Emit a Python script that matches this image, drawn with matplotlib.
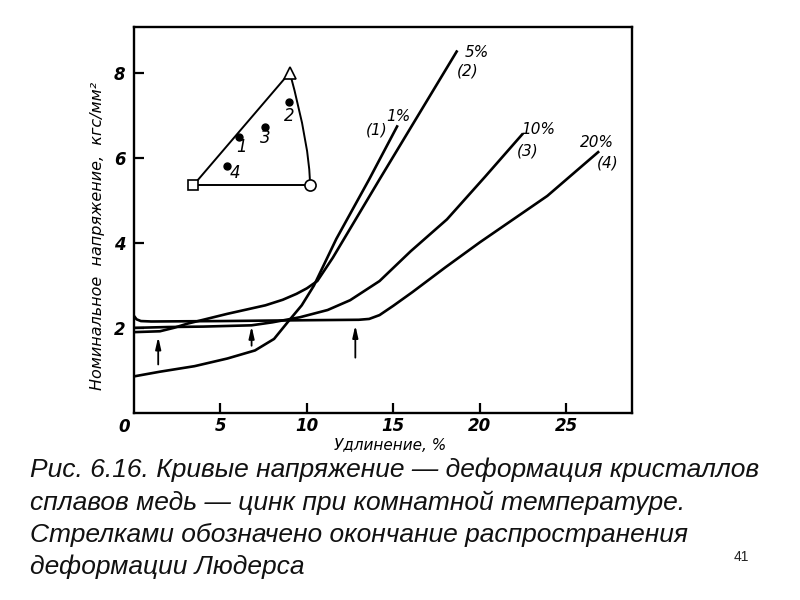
import matplotlib
matplotlib.use("Agg")
import matplotlib.pyplot as plt
from matplotlib.path import Path
from matplotlib.patches import PathPatch
from matplotlib import font_manager

# ---------------- data ----------------
x1 = [0, 1.5, 3.5, 5.4, 7.0, 8.1, 8.9, 9.7, 10.4, 11.7, 13.6, 15.25]
y1 = [0.86, 0.97, 1.10, 1.28, 1.47, 1.74, 2.14, 2.53, 2.99, 4.09, 5.49, 6.76]

x2 = [0, 1.5, 2.3, 3.1, 4.3, 5.4, 6.5, 7.6, 8.6, 9.4, 10.0, 10.6, 11.5, 14.2, 18.7]
y2 = [1.90, 1.92, 2.00, 2.10, 2.22, 2.33, 2.43, 2.53, 2.66, 2.80, 2.93, 3.10, 3.65, 5.49, 8.52]

x3 = [0, 2, 4, 6.8, 8.0, 9.6, 11.2, 12.5, 14.2, 16.0, 18.1, 20.3, 22.5]
y3 = [2.0, 2.02, 2.03, 2.06, 2.13, 2.25, 2.42, 2.65, 3.1, 3.8, 4.55, 5.55, 6.57]

x4 = [0, 0.15, 0.4, 1.0, 5, 10, 13.0, 13.6, 14.2, 15.0, 16.1, 18.0, 20.0, 23.9, 26.9]
y4 = [2.28, 2.20, 2.16, 2.15, 2.16, 2.18, 2.19, 2.21, 2.30, 2.52, 2.84, 3.42, 4.01, 5.10, 6.15]

curve_pct = ["1%", "5%", "10%", "20%"]
curve_num = ["(1)", "(2)", "(3)", "(4)"]
pct_x = [15.28, 19.81, 23.35, 26.75]
pct_y = [6.97, 8.46, 6.66, 6.35]
num_x = [14.03, 19.31, 22.77, 27.4]
num_y = [6.65, 8.03, 6.15, 5.87]

# Lüders-band end arrows
arrow_x = [1.4, 6.8, 12.8]
arrow_tip = [1.79, 2.04, 2.06]
arrow_tail = [1.14, 1.58, 1.30]

# stereographic triangle inset (square = [001], triangle = [111], circle = [011])
tri_x = [3.43, 9.01, 10.18]
tri_y = [5.35, 8.0, 5.35]
arc_ctrl = (10.17, 6.27)
pole_x = [6.05, 8.97, 7.57, 5.39]
pole_y = [6.49, 7.30, 6.73, 5.80]
pole_lbl = ["1", "2", "3", "4"]
pole_off = [(2, -7), (0, -10), (0, -8.5), (5.5, -5)]

xticks = [5, 10, 15, 20, 25]
yticks = [2, 4, 6, 8]

caption = [
    "Рис. 6.16. Кривые напряжение — деформация кристаллов",
    "сплавов медь — цинк при комнатной температуре.",
    "Стрелками обозначено окончание распространения",
    "деформации Людерса",
]

# ---------------- fonts ----------------
names = {f.name for f in font_manager.fontManager.ttflist}
cap_font = "Liberation Sans Narrow" if "Liberation Sans Narrow" in names else "Liberation Sans"
plt.rcParams["font.family"] = ["DejaVu Sans"]

fig = plt.figure(figsize=(8, 6), dpi=100)
ax = fig.add_axes([0.1675, 0.3117, 0.6225, 0.6433])
ax.set_xlim(0, 28.8)
ax.set_ylim(0, 9.07)

lw = 1.9
for xs, ys in [(x1, y1), (x2, y2), (x3, y3), (x4, y4)]:
    ax.plot(xs, ys, color="black", lw=lw, solid_joinstyle="round", solid_capstyle="butt")

for t, x, y in zip(curve_pct, pct_x, pct_y):
    ax.text(x, y, t, fontsize=11, style="italic", ha="center", va="center")
for t, x, y in zip(curve_num, num_x, num_y):
    ax.text(x, y, t, fontsize=11, style="italic", ha="center", va="center")

for x, yt, yb in zip(arrow_x, arrow_tip, arrow_tail):
    ax.annotate("", xy=(x, yt), xytext=(x, yb),
                arrowprops=dict(arrowstyle="-|>,head_width=0.16,head_length=0.7",
                                lw=1.3, color="black", shrinkA=0, shrinkB=0))

# inset triangle
ax.plot([tri_x[0], tri_x[1]], [tri_y[0], tri_y[1]], color="black", lw=1.4)
ax.plot([tri_x[0], tri_x[2]], [tri_y[0], tri_y[2]], color="black", lw=1.4)
arc = Path([(tri_x[1], tri_y[1]), arc_ctrl, (tri_x[2], tri_y[2])],
           [Path.MOVETO, Path.CURVE3, Path.CURVE3])
ax.add_patch(PathPatch(arc, facecolor="none", edgecolor="black", lw=1.4))
ax.plot(tri_x[0], tri_y[0], marker="s", ms=7, mfc="white", mec="black", mew=1.2)
ax.plot(tri_x[1], tri_y[1], marker="^", ms=9, mfc="white", mec="black", mew=1.2)
ax.plot(tri_x[2], tri_y[2], marker="o", ms=8, mfc="white", mec="black", mew=1.2)
ax.plot(pole_x, pole_y, "o", color="black", ms=5, ls="none")
for x, y, t, off in zip(pole_x, pole_y, pole_lbl, pole_off):
    ax.annotate(t, (x, y), xytext=off, textcoords="offset points", fontsize=12,
                style="italic", ha="center", va="center")

# axes styling
for s in ax.spines.values():
    s.set_linewidth(1.7)
ax.set_xticks(xticks)
ax.set_yticks(yticks)
ax.tick_params(direction="in", length=7, width=1.6, labelsize=12)
ax.tick_params(axis="x", pad=3)
ax.tick_params(axis="y", pad=6)
for lab in ax.get_xticklabels() + ax.get_yticklabels():
    lab.set_style("italic")
    lab.set_weight("bold")
ax.text(-0.58, -0.33, "0", fontsize=12, style="italic", weight="bold",
        ha="center", va="center", clip_on=False)

fig.text(0.4875, 0.257, "Удлинение, %", fontsize=11, style="italic",
         ha="center", va="center")
fig.text(0.1225, 0.607, "Номинальное  напряжение,  кгс/мм²", fontsize=11.5,
         style="italic", rotation=90, ha="center", va="center")

cap_y = [470, 503, 535, 567]
for line, py in zip(caption, cap_y):
    fig.text(30 / 800, 1 - py / 600, line, fontsize=19, style="italic",
             family=[cap_font, "DejaVu Sans"], ha="left", va="center", color="#111111")
fig.text(741 / 800, 1 - 557 / 600, "41", fontsize=10, family=["Liberation Sans"],
         ha="center", va="center", color="#222222")

fig.savefig("out.png", dpi=100)
